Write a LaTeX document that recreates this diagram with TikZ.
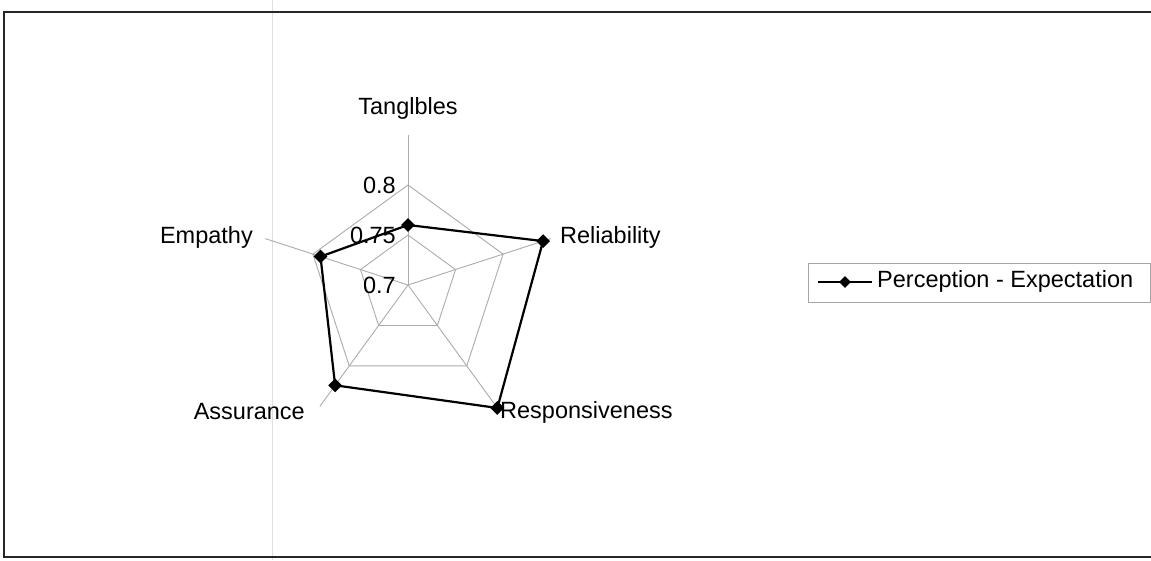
\documentclass[tikz,border=0pt]{standalone}
\usepackage{fontspec}
\setmainfont{Liberation Sans}
\usetikzlibrary{shapes.geometric}
\begin{document}
\begin{tikzpicture}[x=1pt,y=1pt,
  every node/.style={font=\fontsize{23.5}{27}\selectfont, inner sep=0pt},
  grid/.style={draw=gray!65, line width=0.9pt},
  series/.style={draw=black, line width=2.2pt, line join=miter},
  marker/.style={diamond, fill=black, minimum size=14pt}]
\useasboundingbox (0,0) rectangle (1151,560);
\fill[white] (0,0) rectangle (1151,560);
\draw[gray!25, line width=1pt] (272,0)--(272,560);
\draw[black!85, line width=1.8pt] (1160,548)--(4,548)--(4,3)--(1160,3);
\begin{scope}[shift={(408,275)}]
% spokes and rings
\draw[grid] (0,0)--(90:150);
\draw[grid] (0,0)--(18:150);
\draw[grid] (0,0)--(-54:150);
\draw[grid] (0,0)--(-126:150);
\draw[grid] (0,0)--(162:150);
\draw[grid] (90:50)--(18:50)--(-54:50)--(-126:50)--(162:50)--cycle;
\draw[grid] (90:100)--(18:100)--(-54:100)--(-126:100)--(162:100)--cycle;
\node[anchor=east] (t70) at (-12,0) {0.7};
\node[anchor=east] (t75) at (-12,50) {0.75};
\node[anchor=east] (t80) at (-12,100) {0.8};
% data
\draw[series] (90:60) coordinate (tan)--(18:142) coordinate (rel)--(-54:152) coordinate (res)
  --(-126:124) coordinate (ass)--(162:92) coordinate (emp)--cycle;
\node[marker] (mtan) at (tan) {};
\node[marker] (mrel) at (rel) {};
\node[marker] (mres) at (res) {};
\node[marker] (mass) at (ass) {};
\node[marker] (memp) at (emp) {};
\node (ltan) at (0,177) {Tanglbles};
\node[anchor=west] (lrel) at (152,48) {Reliability};
\node[anchor=west] (lres) at (92,-127) {Responsiveness};
\node[anchor=east] (lass) at (-103,-127) {Assurance};
\node[anchor=east] (lemp) at (-155,48) {Empathy};
\end{scope}
% legend
\draw[gray!70, line width=0.9pt] (808,258) rectangle (1150,297);
\coordinate (ka) at (818,278);
\coordinate (kb) at (872,278);
\draw[black, line width=2pt] (ka)--(kb);
\node[marker, minimum size=12pt] (kmark) at (845,278) {};
\node[anchor=west] (key) at (877,279) {Perception - Expectation};
\end{tikzpicture}
\end{document}
